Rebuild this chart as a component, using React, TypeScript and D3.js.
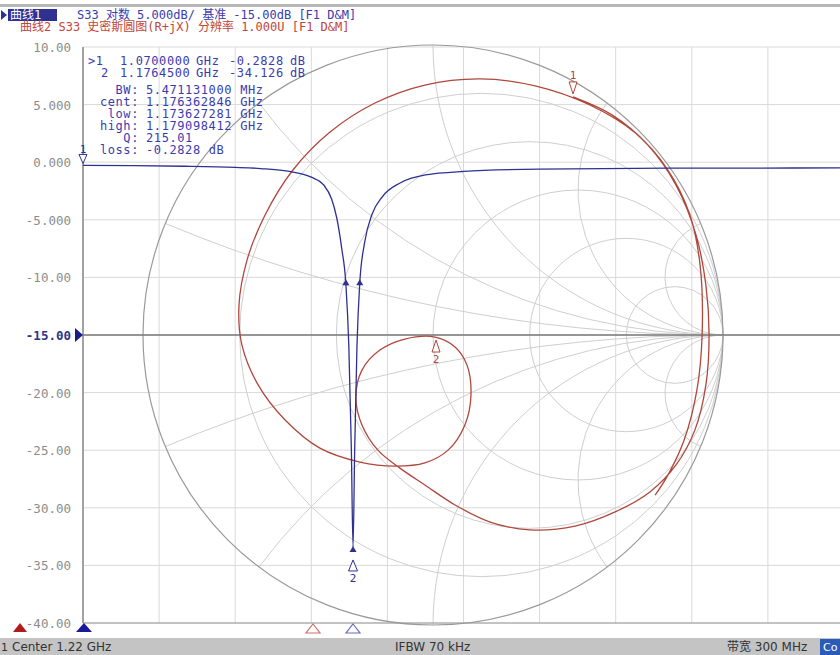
import * as d3 from 'd3';

// trace 1: S33 log magnitude (GHz, dB)
const magFreq = [1.07, 1.09, 1.11, 1.13, 1.14, 1.15, 1.16, 1.165, 1.168, 1.17, 1.172, 1.1736, 1.1748, 1.1758, 1.17645, 1.1771, 1.178, 1.1791, 1.181, 1.184, 1.188, 1.195, 1.205, 1.22, 1.25, 1.3, 1.37];
const magDb = [-0.28, -0.3, -0.35, -0.45, -0.55, -0.75, -1.3, -2.0, -3.2, -4.8, -7.5, -10.5, -16, -25, -33.4, -25, -16, -10.5, -7.0, -4.5, -3.0, -1.8, -1.1, -0.8, -0.6, -0.52, -0.5];

// trace 2: S33 on the Smith chart (real, imag of gamma)
const smithRe = [0.483, 0.617, 0.741, 0.838, 0.907, 0.941, 0.952, 0.941, 0.903, 0.838, 0.748, 0.628, 0.49, 0.334, 0.197, 0.076, -0.028, -0.114,
  -0.19, -0.245, -0.266, -0.245, -0.183, -0.097, 0.007, 0.076, 0.117, 0.131, 0.11, 0.052, -0.028, -0.131,
  -0.252, -0.39, -0.51, -0.603, -0.659, -0.669, -0.641, -0.579, -0.483, -0.355, -0.2, -0.028, 0.162, 0.352, 0.541, 0.697, 0.81, 0.886, 0.921, 0.928, 0.91, 0.866, 0.81, 0.766];
const smithIm = [0.821, 0.759, 0.655, 0.517, 0.345, 0.172, 0.0, -0.172, -0.328, -0.448, -0.541, -0.61, -0.659, -0.672, -0.645, -0.586, -0.517, -0.459,
  -0.397, -0.31, -0.217, -0.121, -0.052, -0.014, -0.007, -0.041, -0.103, -0.207, -0.31, -0.397, -0.441, -0.452,
  -0.438, -0.39, -0.293, -0.172, -0.034, 0.103, 0.259, 0.414, 0.569, 0.7, 0.8, 0.862, 0.883, 0.859, 0.793, 0.697, 0.569, 0.414, 0.241, 0.0, -0.19, -0.362, -0.483, -0.552];

const yTicks = [10, 5, 0, -5, -10, -15, -20, -25, -30, -35, -40];
const yLabels = ['10.00', '5.000', '0.000', '-5.000', '-10.00', '-15.00', '-20.00', '-25.00', '-30.00', '-35.00', '-40.00'];
const xDivs = d3.range(0, 11);

const smithR = [0.2, 0.5, 1, 2, 5];
const smithX = [0.2, 0.5, 1, 2, 5, -0.2, -0.5, -1, -2, -5];

const markerRows = [
  ['>1', '1.0700000', 'GHz', '-0.2828', 'dB'],
  ['2', '1.1764500', 'GHz', '-34.126', 'dB'],
];
const statLabels = ['BW:', 'cent:', 'low:', 'high:', 'Q:', 'loss:'];
const statValues = ['5.471131000', '1.176362846', '1.173627281', '1.179098412', '215.01', '-0.2828'];
const statUnits = ['MHz', 'GHz', 'GHz', 'GHz', '', 'dB'];

const BLUE = '#2e3192';
const RED = '#b0473c';
const MONO = '"DejaVu Sans Mono", "Noto Sans CJK SC", monospace';

export default function App() {
  const x = d3.scaleLinear().domain([1.07, 1.37]).range([83, 844]);
  const y = d3.scaleLinear().domain([-40, 10]).range([623, 47]);
  const gx = d3.scaleLinear().domain([-1, 1]).range([143, 723]);
  const gy = d3.scaleLinear().domain([-1, 1]).range([625, 45]);
  const unit = gx(1) - gx(0);

  const magLine = d3.line<number>().x((_, i) => x(magFreq[i])).y(d => y(d)).curve(d3.curveMonotoneX);
  const smithLine = d3.line<number>().x(d => gx(d)).y((_, i) => gy(smithIm[i])).curve(d3.curveCatmullRom.alpha(0.5));

  const xArc = (v: number) => {
    const ex = (v * v - 1) / (v * v + 1);
    const ey = (2 * v) / (v * v + 1);
    const rad = unit / Math.abs(v);
    return `M${gx(1)},${gy(0)} A${rad},${rad} 0 0 ${v > 0 ? 1 : 0} ${gx(ex)},${gy(ey)}`;
  };

  const lowX = x(1.173627281);
  const highX = x(1.179098412);
  const m2x = x(1.17645);
  const m2y = y(-33.4);

  const upTri = (cx: number, tip: number, w = 5, h = 9) => `M${cx},${tip} L${cx + w},${tip + h} L${cx - w},${tip + h} Z`;
  const downTri = (cx: number, tip: number, w = 5, h = 9) => `M${cx},${tip} L${cx + w},${tip - h} L${cx - w},${tip - h} Z`;

  return (
    <svg width={840} height={655} style={{ position: 'absolute', left: 0, top: 0, background: '#fff' }}>
      <defs>
        <clipPath id="plot">
          <rect x={83} y={40} width={757} height={590} />
        </clipPath>
      </defs>

      {/* top frame line */}
      <rect x={0} y={4} width={840} height={3} fill="#b8b8b8" />

      {/* header */}
      <path d="M1,10 L7,15 L1,20 Z" fill={BLUE} />
      <rect x={8} y={9} width={49} height={12} fill={BLUE} />
      <text x={10} y={19} fontFamily={MONO} fontSize={12} fill="#fff">曲线1</text>
      <text x={77} y={19} fontFamily={MONO} fontSize={12} fill="#3b3bb0">S33 对数 5.000dB/ 基准 -15.00dB [F1 D&amp;M]</text>
      <text x={20} y={31} fontFamily={MONO} fontSize={12} fill="#c0453a">曲线2 S33 史密斯圆图(R+jX) 分辨率 1.000U [F1 D&amp;M]</text>

      {/* rectangular grid */}
      <g stroke="#d9d9d9" strokeWidth={1}>
        {yTicks.map(t => <line key={'h' + t} x1={83} x2={840} y1={y(t)} y2={y(t)} />)}
        {xDivs.map(i => <line key={'v' + i} x1={x(1.07 + i * 0.03)} x2={x(1.07 + i * 0.03)} y1={47} y2={623} />)}
      </g>

      {/* smith grid */}
      <g fill="none" stroke="#cfcfcf" strokeWidth={1} clipPath="url(#plot)">
        {smithR.map(r => (
          <circle key={'r' + r} cx={gx(r / (1 + r))} cy={gy(0)} r={unit / (1 + r)} />
        ))}
        {smithX.map(v => <path key={'x' + v} d={xArc(v)} />)}
      </g>
      <circle cx={gx(0)} cy={gy(0)} r={unit} fill="none" stroke="#9a9a9a" strokeWidth={1.2} />

      {/* axes frame */}
      <line x1={83} x2={83} y1={47} y2={623} stroke="#8a8a8a" strokeWidth={1.5} />
      <line x1={83} x2={840} y1={623} y2={623} stroke="#9a9a9a" strokeWidth={1.2} />

      {/* reference line */}
      <line x1={83} x2={840} y1={y(-15)} y2={y(-15)} stroke="#7a7a7a" strokeWidth={1.5} />
      <path d={`M75,${y(-15) - 7} L83,${y(-15)} L75,${y(-15) + 7} Z`} fill="#1a1a8c" />

      {/* y labels */}
      {yTicks.map((t, i) => (
        <text key={'l' + t} x={71} y={y(t) + 5} textAnchor="end" fontFamily={MONO} fontSize={12.5}
          fill={t === -15 ? '#33338a' : '#8c8c8c'} fontWeight={t === -15 ? 'bold' : 'normal'}>
          {yLabels[i]}
        </text>
      ))}

      {/* traces */}
      <g clipPath="url(#plot)">
        <path d={smithLine(smithRe) ?? ''} fill="none" stroke={RED} strokeWidth={1.3} />
        <path d={magLine(magDb) ?? ''} fill="none" stroke={BLUE} strokeWidth={1.3} />
      </g>

      {/* smith markers */}
      <path d={downTri(gx(0.483), gy(0.821) - 3, 4, 12)} fill="#fff" stroke={RED} strokeWidth={1} />
      <text x={gx(0.483)} y={gy(0.821) - 18} textAnchor="middle" fontFamily={MONO} fontSize={11} fill={RED}>1</text>
      <path d={upTri(gx(0.007) + 1, gy(-0.007) + 3, 4, 12)} fill="#fff" stroke={RED} strokeWidth={1} />
      <text x={gx(0.007) + 1} y={gy(-0.007) + 26} textAnchor="middle" fontFamily={MONO} fontSize={11} fill={RED}>2</text>

      {/* log-mag markers */}
      <path d={downTri(83, y(-0.28) - 2, 4, 9)} fill="#fff" stroke={BLUE} strokeWidth={1} />
      <text x={83} y={y(-0.28) - 12} textAnchor="middle" fontFamily={MONO} fontSize={11} fill={BLUE}>1</text>
      <path d={upTri(lowX, y(-10.5) - 4, 3.5, 6)} fill={BLUE} />
      <path d={upTri(highX, y(-10.5) - 4, 3.5, 6)} fill={BLUE} />
      <path d={upTri(m2x, m2y - 1, 3.5, 6)} fill={BLUE} />
      <path d={upTri(m2x, m2y + 13, 4.5, 11)} fill="#fff" stroke={BLUE} strokeWidth={1} />
      <text x={m2x} y={m2y + 35} textAnchor="middle" fontFamily={MONO} fontSize={11} fill={BLUE}>2</text>

      {/* marker table */}
      <g fontFamily={MONO} fontSize={12} letterSpacing={0.6} fill="#3b3bb0">
        {markerRows.map((r, i) => (
          <g key={'m' + i}>
            <text x={i === 0 ? 88 : 101} y={65 + i * 12}>{r[0]}</text>
            <text x={120} y={65 + i * 12}>{r[1]}</text>
            <text x={196} y={65 + i * 12}>{r[2]}</text>
            <text x={229} y={65 + i * 12}>{r[3]}</text>
            <text x={290} y={65 + i * 12}>{r[4]}</text>
          </g>
        ))}
        {statLabels.map((l, i) => (
          <g key={'s' + i}>
            <text x={139} y={94 + i * 12} textAnchor="end">{l}</text>
            <text x={146} y={94 + i * 12}>{statValues[i]}</text>
            {statUnits[i] && (
              <text x={146 + statValues[i].length * 7.83 + 8} y={94 + i * 12}>{statUnits[i]}</text>
            )}
          </g>
        ))}
      </g>

      {/* bottom stimulus markers */}
      <path d={upTri(20, 623, 7, 9)} fill="#b01c1c" />
      <path d={upTri(84, 623, 8, 9)} fill="#1a1a9c" />
      <path d={upTri(313, 624, 7, 9)} fill="#fff" stroke="#d07070" strokeWidth={1.2} />
      <path d={upTri(353, 624, 7, 9)} fill="#fff" stroke="#6a6ac0" strokeWidth={1.2} />

      {/* status bar */}
      <rect x={0} y={638} width={840} height={17} fill="#c4c4c4" />
      <g fontFamily='"DejaVu Sans", "Noto Sans CJK SC", sans-serif' fontSize={12} fill="#333">
        <text x={1} y={651} fontSize={11}>1</text>
        <text x={12} y={651}>Center 1.22 GHz</text>
        <text x={395} y={651}>IFBW 70 kHz</text>
        <text x={727} y={651}>带宽 300 MHz</text>
      </g>
      <rect x={820} y={639} width={20} height={16} fill="#2a5bb8" />
      <text x={823} y={651} fontFamily='"DejaVu Sans", sans-serif' fontSize={11} fill="#fff">Co</text>
    </svg>
  );
}
